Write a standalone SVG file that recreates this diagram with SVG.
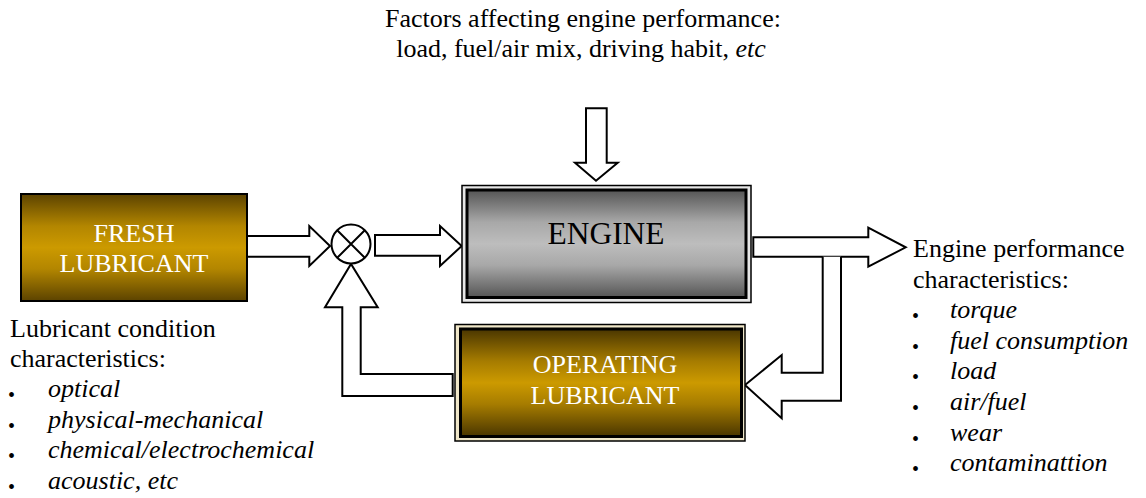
<svg xmlns="http://www.w3.org/2000/svg" width="1146" height="498" viewBox="0 0 1146 498">
<defs>
<linearGradient id="gold" x1="0" y1="0" x2="0" y2="1">
<stop offset="0" stop-color="#5c4300"/>
<stop offset="0.3" stop-color="#b38600"/>
<stop offset="0.5" stop-color="#cc9a00"/>
<stop offset="0.7" stop-color="#b38600"/>
<stop offset="1" stop-color="#5c4300"/>
</linearGradient>
<linearGradient id="gold2" x1="0" y1="0" x2="0" y2="1">
<stop offset="0" stop-color="#4a3600"/>
<stop offset="0.3" stop-color="#a67c00"/>
<stop offset="0.5" stop-color="#cc9a00"/>
<stop offset="0.7" stop-color="#a67c00"/>
<stop offset="1" stop-color="#4a3600"/>
</linearGradient>
<linearGradient id="grey" x1="0" y1="0" x2="0" y2="1">
<stop offset="0" stop-color="#555"/>
<stop offset="0.3" stop-color="#a8a8a8"/>
<stop offset="0.5" stop-color="#bdbdbd"/>
<stop offset="0.7" stop-color="#a8a8a8"/>
<stop offset="1" stop-color="#555"/>
</linearGradient>
<style>
text{font-family:"Liberation Serif","Nimbus Roman","Nimbus Roman No9 L",FreeSerif,"Noto Serif","DejaVu Serif",Tinos,"Times New Roman",Times,serif;font-size:26px;fill:#000}
.w{fill:#fff}
.c{text-anchor:middle}
.i{font-style:italic}
.b{font-size:20px}
.arr{fill:#fff;stroke:#000;stroke-width:2;stroke-linejoin:miter}
.outer{fill:#e6e6e6;stroke:#000;stroke-width:1.5}
.inner{stroke:#000;stroke-width:3}
</style>
</defs>

<g id="connectors">
<polygon class="arr" points="247,236 309.3,236 309.3,226 330,246 309.3,266 309.3,256.7 247,256.7"/>
<polygon class="arr" points="375,235 440,235 440,226 461.7,246 440,266 440,255.7 375,255.7"/>
<polygon class="arr" points="586,108.3 606.7,108.3 606.7,162.7 617.7,162.7 596,180.7 575,162.7 586,162.7"/>
<polygon class="arr" points="753.3,237.3 868.3,237.3 868.3,227.7 905.7,247.3 868.3,266.7 868.3,256.7 753.3,256.7"/>
<path class="arr" d="M822.7,256.7 V372.7 H781.7 V355 L745,385 L781.7,418.3 V400.7 H841 V256.7"/>
<polygon class="arr" points="452.7,374 360.7,374 360.7,307.3 377.7,307.3 351,264 325,307.3 342.3,307.3 342.3,396 452.7,396"/>
</g>

<g id="sum">
<circle cx="351" cy="244" r="19.5" fill="#fff" stroke="#000" stroke-width="2"/>
<path d="M337.2,230.2 L364.8,257.8 M364.8,230.2 L337.2,257.8" stroke="#000" stroke-width="2"/>
</g>

<g id="fresh">
<rect x="21" y="194" width="226" height="107" fill="url(#gold)" stroke="#000" stroke-width="2"/>
<text class="w c" x="134" y="242">FRESH</text>
<text class="w c" x="134" y="272">LUBRICANT</text>
</g>

<g id="engine">
<rect class="outer" x="462" y="185.5" width="289" height="117"/>
<rect class="inner" x="467" y="190" width="279" height="107.5" fill="url(#grey)"/>
<text class="c" x="606" y="244" style="font-size:31.5px">ENGINE</text>
</g>

<g id="operating">
<rect class="outer" x="455" y="324.5" width="290" height="116.5" style="fill:#efe6c8"/>
<rect class="inner" x="460.5" y="329" width="281" height="107.5" fill="url(#gold2)"/>
<text class="w c" x="605" y="373">OPERATING</text>
<text class="w c" x="605" y="404">LUBRICANT</text>
</g>

<g id="factors">
<text class="c" x="583" y="27">Factors affecting engine performance:</text>
<text class="c" x="581" y="57">load, fuel/air mix, driving habit, <tspan class="i">etc</tspan></text>
</g>

<g id="lubricant-characteristics">
<text x="10" y="337">Lubricant condition</text>
<text x="10" y="367">characteristics:</text>
<text class="b" x="8" y="402">•</text><text class="i" x="48" y="397">optical</text>
<text class="b" x="8" y="433">•</text><text class="i" x="48" y="428">physical-mechanical</text>
<text class="b" x="8" y="463">•</text><text class="i" x="48" y="458">chemical/electrochemical</text>
<text class="b" x="8" y="494">•</text><text class="i" x="48" y="489">acoustic, etc</text>
</g>

<g id="engine-characteristics">
<text x="913" y="257">Engine performance</text>
<text x="913" y="288">characteristics:</text>
<text class="b" x="912" y="323">•</text><text class="i" x="950" y="318">torque</text>
<text class="b" x="912" y="354">•</text><text class="i" x="950" y="349">fuel consumption</text>
<text class="b" x="912" y="384">•</text><text class="i" x="950" y="379">load</text>
<text class="b" x="912" y="415">•</text><text class="i" x="950" y="410">air/fuel</text>
<text class="b" x="912" y="446">•</text><text class="i" x="950" y="441">wear</text>
<text class="b" x="912" y="476">•</text><text class="i" x="950" y="471">contaminattion</text>
</g>
</svg>
